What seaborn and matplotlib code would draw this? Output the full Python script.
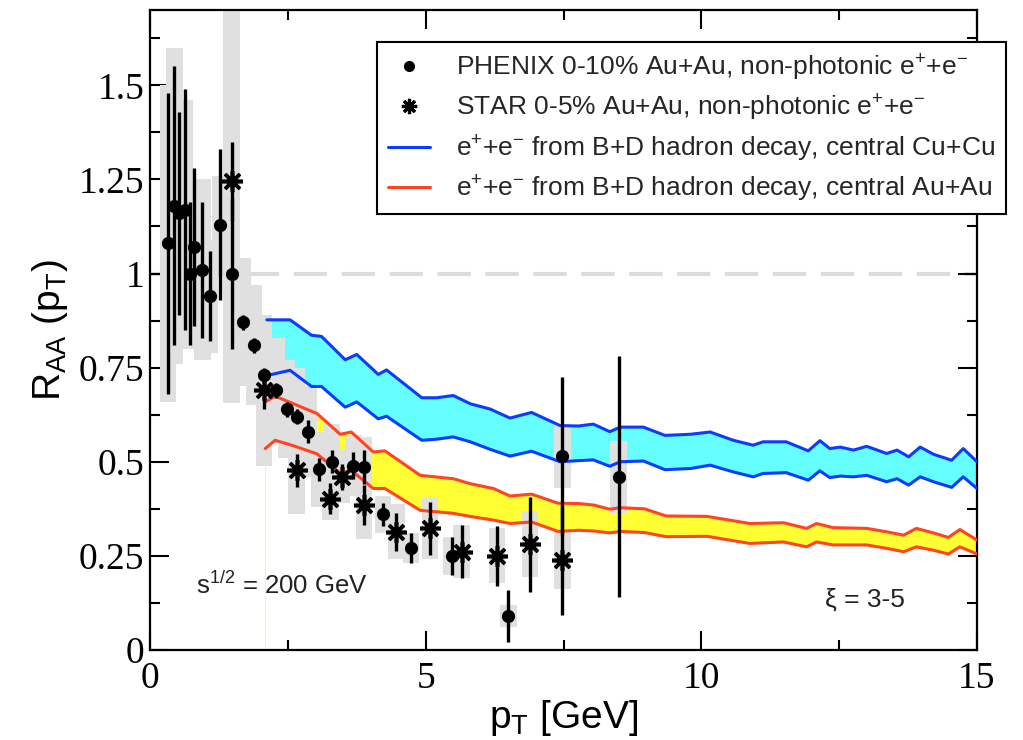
import numpy as np
import matplotlib
matplotlib.use("Agg")
import matplotlib.pyplot as plt
from matplotlib.lines import Line2D
import seaborn as sns

# PHENIX 0-10% Au+Au (circles): pT, R_AA, stat error, sys box half-height
phenix_pt = [0.33, 0.44, 0.53, 0.63, 0.73, 0.80, 0.95, 1.08, 1.27, 1.48, 1.69, 1.89, 2.07, 2.29,
             2.48, 2.67, 2.87, 3.07, 3.30, 3.69, 3.88, 4.23, 4.73, 5.47, 6.50, 7.48, 8.50]
phenix_r = [1.08, 1.18, 1.16, 1.17, 1.00, 1.07, 1.01, 0.94, 1.13, 1.00, 0.87, 0.81, 0.73, 0.69,
            0.64, 0.62, 0.58, 0.48, 0.50, 0.49, 0.485, 0.36, 0.27, 0.25, 0.09, 0.515, 0.46]
phenix_err = [0.40, 0.37, 0.27, 0.32, 0.19, 0.21, 0.18, 0.12, 0.20, 0.20, 0.02, 0.02, 0.02, 0.02,
              0.02, 0.02, 0.03, 0.03, 0.03, 0.035, 0.045, 0.03, 0.04, 0.05, 0.07, 0.21, 0.32]
phenix_sys = [0.42, 0.42, 0.30, 0.29, 0.20, 0.18, 0.24, 0.15, 0.13, 0.20, 0.17, 0.16, 0.14, 0.14,
              0.13, 0.13, 0.12, 0.10, 0.10, 0.08, 0.08, 0.05, 0.04, 0.05, 0.03, 0.085, 0.095]

# STAR 0-5% Au+Au (asterisks)
star_pt = [1.48, 2.07, 2.66, 3.27, 3.48, 3.88, 4.47, 5.08, 5.65, 6.29, 6.89, 7.48]
star_r = [1.245, 0.69, 0.477, 0.402, 0.46, 0.385, 0.314, 0.323, 0.261, 0.25, 0.281, 0.239]
star_err = [0.105, 0.05, 0.043, 0.042, 0.035, 0.053, 0.05, 0.07, 0.07, 0.08, 0.126, 0.146]
star_sys = [0.59, 0.20, 0.115, 0.058, 0.07, 0.09, 0.073, 0.082, 0.07, 0.073, 0.087, 0.078]

# B+D decay electrons, central Cu+Cu (band)
cu_pt = [2.12, 2.54, 2.93, 3.11, 3.54, 3.75, 4.14, 4.29, 4.93, 5.20, 5.50, 5.81, 6.17, 6.53,
         6.92, 7.44, 7.77, 8.04, 8.34, 8.53, 8.95, 9.34, 9.80, 10.16, 10.58, 10.94, 11.12,
         11.54, 11.94, 12.15, 12.33, 12.52, 12.76, 13.00, 13.36, 13.55, 13.76, 13.97, 14.21,
         14.54, 14.75, 15.0]
cu_hi = [0.877, 0.877, 0.836, 0.833, 0.771, 0.785, 0.732, 0.744, 0.670, 0.670, 0.676, 0.654,
         0.640, 0.616, 0.631, 0.596, 0.595, 0.600, 0.580, 0.592, 0.592, 0.570, 0.573, 0.579,
         0.557, 0.544, 0.553, 0.553, 0.529, 0.556, 0.535, 0.539, 0.531, 0.541, 0.522, 0.531,
         0.513, 0.539, 0.520, 0.504, 0.535, 0.500]
cu_lo = [0.729, 0.743, 0.700, 0.700, 0.645, 0.659, 0.614, 0.621, 0.557, 0.560, 0.566, 0.553,
         0.533, 0.515, 0.528, 0.500, 0.503, 0.505, 0.488, 0.500, 0.502, 0.479, 0.482, 0.491,
         0.473, 0.460, 0.469, 0.471, 0.451, 0.476, 0.458, 0.462, 0.460, 0.464, 0.447, 0.455,
         0.438, 0.460, 0.447, 0.432, 0.460, 0.429]

# B+D decay electrons, central Au+Au (band)
au_pt = [2.09, 2.27, 2.57, 3.03, 3.45, 3.65, 4.05, 4.26, 4.90, 5.50, 5.80, 6.23, 6.53, 6.92,
         7.40, 7.78, 8.05, 8.34, 8.53, 8.97, 9.36, 10.10, 10.88, 11.49, 11.91, 12.09, 12.39,
         13.00, 13.36, 13.67, 13.90, 14.21, 14.48, 14.69, 15.0]
au_hi = [0.659, 0.674, 0.656, 0.628, 0.573, 0.579, 0.526, 0.529, 0.464, 0.455, 0.442, 0.429,
         0.409, 0.414, 0.390, 0.389, 0.385, 0.374, 0.378, 0.375, 0.356, 0.355, 0.336, 0.338,
         0.323, 0.336, 0.325, 0.323, 0.314, 0.305, 0.323, 0.311, 0.299, 0.320, 0.292]
au_lo = [0.535, 0.557, 0.544, 0.521, 0.469, 0.477, 0.429, 0.429, 0.371, 0.363, 0.355, 0.345,
         0.336, 0.340, 0.315, 0.318, 0.316, 0.311, 0.315, 0.312, 0.301, 0.302, 0.283, 0.287,
         0.274, 0.287, 0.279, 0.279, 0.270, 0.261, 0.274, 0.265, 0.255, 0.274, 0.255]

x_ticks = [0, 5, 10, 15]
y_ticks = [0, 0.25, 0.5, 0.75, 1, 1.25, 1.5]
y_ticklabels = ["0", "0.25", "0.5", "0.75", "1", "1.25", "1.5"]

sns.set_theme(style="ticks")
plt.rcParams["font.family"] = ["Liberation Sans", "DejaVu Sans"]
plt.rcParams["mathtext.default"] = "regular"

BLUE = "#0a3cff"
RED = "#ff4422"
CYAN = "#66ffff"
YELLOW = "#ffff33"
GRAY = "#e0e0e0"

fig = plt.figure(figsize=(10.23, 7.40), dpi=100)
ax = fig.add_axes([150 / 1023, 90 / 740, 827 / 1023, 640 / 740])

# reference line at 1
ax.axhline(1, color="#dcdcdc", lw=3, dashes=(8, 3.5), zorder=0)

# model bands
ax.fill_between(cu_pt, cu_lo, cu_hi, color=CYAN, lw=0, zorder=1)
ax.fill_between(au_pt, au_lo, au_hi, color=YELLOW, lw=0, zorder=1)
ax.vlines(au_pt[0], 0, au_lo[0], color="#fff3a0", lw=0.8, zorder=1)

# systematic boxes
p_r, p_s = np.array(phenix_r), np.array(phenix_sys)
s_r, s_s = np.array(star_r), np.array(star_sys)
ax.bar(phenix_pt, 2 * p_s, bottom=p_r - p_s, width=0.3, color=GRAY, lw=0, zorder=2)
ax.bar(star_pt, 2 * s_s, bottom=s_r - s_s, width=0.3, color=GRAY, lw=0, zorder=2)

# band edges
for xs, ys, c in [(cu_pt, cu_hi, BLUE), (cu_pt, cu_lo, BLUE), (au_pt, au_hi, RED), (au_pt, au_lo, RED)]:
    sns.lineplot(x=xs, y=ys, color=c, lw=2.2, sort=False, estimator=None, ax=ax, zorder=3)

# data points
ax.errorbar(phenix_pt, phenix_r, yerr=phenix_err, fmt="none", ecolor="black", elinewidth=2.4, zorder=4)
ax.errorbar(star_pt, star_r, yerr=star_err, fmt="none", ecolor="black", elinewidth=2.4, zorder=4)
ax.plot(phenix_pt, phenix_r, "o", color="black", ms=8.5, zorder=5)
ax.plot(star_pt, star_r, ls="none", marker=(8, 2, 0), color="black", ms=15, mew=2.6, zorder=5)

ax.set_xlim(0, 15)
ax.set_ylim(0, 1.7)
ax.set_xticks(x_ticks)
ax.set_xticks(np.arange(0, 15.1, 2.5), minor=True)
ax.set_yticks(y_ticks)
ax.set_yticklabels(y_ticklabels)
ax.set_yticks(np.arange(0, 1.7, 0.125), minor=True)

for lab in ax.get_xticklabels() + ax.get_yticklabels():
    lab.set_family("Liberation Serif")
    lab.set_fontsize(27)
ax.tick_params(which="both", direction="in", top=True, right=True, width=1.5, colors="black")
ax.tick_params(which="major", length=14)
ax.tick_params(which="minor", length=7)
ax.tick_params(axis="x", pad=8)
ax.tick_params(axis="y", pad=4)
for sp in ax.spines.values():
    sp.set_color("black")
    sp.set_linewidth(1.6)

ax.set_xlabel(r"p$_{T}$ [GeV]", fontsize=28, labelpad=2, color="black")
ax.set_ylabel(r"R$_{AA}$ (p$_{T}$)", fontsize=28, labelpad=6, color="black")

ax.text(0.83, 0.172, r"s$^{1/2}$ = 200 GeV", fontsize=18.5, va="center", color="#222222")
ax.text(12.25, 0.133, "\u03be = 3-5", fontsize=19, va="center", color="#222222")

handles = [
    Line2D([], [], ls="none", marker="o", color="black", ms=7),
    Line2D([], [], ls="none", marker=(8, 2, 0), color="black", ms=11, mew=2.3),
    Line2D([], [], color=BLUE, lw=2.2),
    Line2D([], [], color=RED, lw=2.2),
]
labels = [
    r"PHENIX 0-10% Au+Au, non-photonic e$^{+}$+e$^{-}$",
    r"STAR 0-5% Au+Au, non-photonic e$^{+}$+e$^{-}$",
    r"e$^{+}$+e$^{-}$ from B+D hadron decay, central Cu+Cu",
    r"e$^{+}$+e$^{-}$ from B+D hadron decay, central Au+Au",
]
leg = ax.legend(handles, labels, loc="upper left", bbox_to_anchor=(0.2745, 0.95), fontsize=19,
                frameon=True, fancybox=False, edgecolor="black", framealpha=1, handlelength=1.6,
                handletextpad=1.0, labelspacing=0.38, borderpad=0.4, borderaxespad=0)
leg.get_frame().set_linewidth(1.5)
leg.set_zorder(10)

fig.savefig("out.png", dpi=100)
